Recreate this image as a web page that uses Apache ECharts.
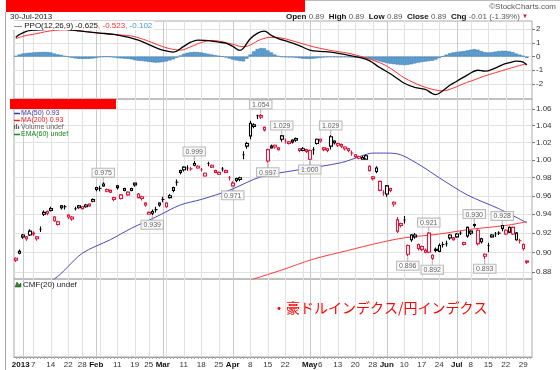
<!DOCTYPE html>
<html><head><meta charset="utf-8">
<script src="https://cdn.jsdelivr.net/npm/echarts@6/dist/echarts.min.js"></script>
<style>html,body{margin:0;padding:0;background:#fff}#c{width:560px;height:370px}</style>
</head><body><div id="c"></div>
<script>
// trading days shown (last one is an empty slot at the right edge)
const tradingDays = [
 ['2012-12', [28,31]],
 ['2013-01', [2,3,4,7,8,9,10,11,14,15,16,17,18,22,23,24,25,28,29,30,31]],
 ['2013-02', [1,4,5,6,7,8,11,12,13,14,15,19,20,21,22,25,26,27,28]],
 ['2013-03', [1,4,5,6,7,8,11,12,13,14,15,18,19,20,21,22,25,26,27,28]],
 ['2013-04', [1,2,3,4,5,8,9,10,11,12,15,16,17,18,19,22,23,24,25,26,29,30]],
 ['2013-05', [1,2,3,6,7,8,9,10,13,14,15,16,17,20,21,22,23,24,28,29,30,31]],
 ['2013-06', [3,4,5,6,7,10,11,12,13,14,17,18,19,20,21,24,25,26,27,28]],
 ['2013-07', [1,2,3,5,8,9,10,11,12,15,16,17,18,19,22,23,24,25,26,29,30,31]]
];
const categories = [];
tradingDays.forEach(([m, ds]) => ds.forEach(d => categories.push(m + '-' + String(d).padStart(2, '0'))));

const opens = [
 0.894,0.899,0.918,0.916,0.918,0.920,0.916,0.924,0.940,0.943,
 0.944,0.933,0.929,0.949,0.948,0.939,0.937,0.946,0.949,0.948,
 0.948,0.951,0.954,0.969,0.968,0.971,0.967,0.966,0.958,0.971,
 0.957,0.968,0.961,0.968,0.974,0.958,0.959,0.952,0.942,0.941,
 0.945,0.952,0.956,0.948,0.958,0.969,0.975,0.988,0.992,0.991,
 0.990,0.994,0.993,0.989,0.982,0.996,0.994,0.988,0.986,0.990,
 0.988,0.980,0.971,0.979,0.980,1.006,1.019,1.043,1.039,1.052,
 1.052,1.038,1.012,1.014,1.017,1.012,1.028,1.022,1.021,1.023,
 1.025,1.013,1.011,1.012,1.011,1.012,1.019,1.024,1.014,1.013,
 1.027,1.022,1.019,1.018,1.015,1.013,1.008,1.006,1.004,1.001,
 1.001,0.988,0.981,0.991,0.966,0.963,0.962,0.968,0.953,0.922,
 0.930,0.934,0.898,0.918,0.918,0.908,0.906,0.900,0.920,0.897,
 0.902,0.901,0.908,0.909,0.918,0.915,0.916,0.920,0.910,0.926,
 0.922,0.928,0.923,0.914,0.896,0.907,0.916,0.919,0.920,0.928,
 0.919,0.921,0.926,0.913,0.912,0.908,0.891
];
const closes = [
 0.892,0.901,0.916,0.914,0.922,0.919,0.914,0.924,0.942,0.941,
 0.946,0.937,0.932,0.947,0.948,0.937,0.935,0.946,0.947,0.946,
 0.950,0.949,0.956,0.967,0.968,0.973,0.965,0.964,0.956,0.969,
 0.961,0.966,0.964,0.966,0.972,0.962,0.957,0.950,0.940,0.943,
 0.945,0.950,0.956,0.952,0.960,0.966,0.975,0.986,0.989,0.991,
 0.990,0.996,0.991,0.989,0.985,0.996,0.992,0.986,0.984,0.990,
 0.986,0.980,0.974,0.977,0.978,1.006,1.016,1.028,1.041,1.052,
 1.050,1.035,0.999,1.016,1.015,1.014,1.024,1.022,1.019,1.021,
 1.023,1.011,1.013,1.010,1.001,1.012,1.024,1.022,1.012,1.011,
 1.016,1.020,1.017,1.016,1.013,1.011,1.008,1.004,1.002,1.003,
 1.005,0.993,0.979,0.987,0.976,0.963,0.971,0.966,0.951,0.934,
 0.928,0.934,0.907,0.913,0.916,0.904,0.903,0.902,0.900,0.894,
 0.903,0.907,0.908,0.909,0.915,0.913,0.919,0.920,0.908,0.917,
 0.920,0.929,0.909,0.911,0.898,0.907,0.918,0.919,0.920,0.925,
 0.923,0.926,0.919,0.920,0.912,0.904,0.890
];
const lows = [
 0.890,0.898,0.914,0.912,0.917,0.917,0.912,0.921,0.938,0.939,
 0.943,0.932,0.928,0.945,0.945,0.935,0.933,0.944,0.946,0.945,
 0.947,0.948,0.953,0.965,0.965,0.970,0.964,0.963,0.954,0.967,
 0.956,0.965,0.960,0.965,0.970,0.957,0.955,0.948,0.940,0.939,
 0.942,0.948,0.953,0.947,0.957,0.964,0.971,0.984,0.987,0.988,
 0.988,0.993,0.990,0.987,0.981,0.993,0.991,0.985,0.983,0.987,
 0.985,0.977,0.971,0.975,0.976,1.001,1.013,1.024,1.037,1.048,
 1.048,1.033,0.997,1.013,1.013,1.011,1.021,1.019,1.018,1.019,
 1.021,1.009,1.010,1.008,1.000,1.006,1.018,1.020,1.010,1.009,
 1.012,1.018,1.015,1.014,1.011,1.009,1.005,1.002,1.001,1.001,
 1.002,0.987,0.977,0.985,0.965,0.960,0.959,0.964,0.948,0.920,
 0.926,0.930,0.896,0.911,0.914,0.902,0.901,0.899,0.899,0.892,
 0.900,0.900,0.905,0.906,0.913,0.912,0.915,0.918,0.907,0.915,
 0.918,0.926,0.907,0.909,0.893,0.900,0.915,0.916,0.918,0.922,
 0.918,0.920,0.918,0.912,0.909,0.902,0.888
];
const highs = [
 0.895,0.903,0.919,0.917,0.924,0.922,0.917,0.927,0.944,0.944,
 0.948,0.938,0.933,0.950,0.950,0.940,0.938,0.948,0.950,0.949,
 0.951,0.952,0.957,0.970,0.971,0.975,0.968,0.967,0.959,0.972,
 0.962,0.969,0.965,0.969,0.974,0.963,0.960,0.953,0.943,0.945,
 0.948,0.953,0.959,0.953,0.962,0.970,0.978,0.989,0.993,0.994,
 0.992,0.999,0.994,0.991,0.986,0.998,0.995,0.989,0.987,0.992,
 0.989,0.982,0.976,0.980,0.981,1.010,1.021,1.046,1.043,1.053,
 1.054,1.039,1.013,1.018,1.018,1.015,1.029,1.025,1.022,1.024,
 1.026,1.014,1.015,1.013,1.012,1.015,1.025,1.025,1.015,1.014,
 1.029,1.023,1.020,1.019,1.016,1.014,1.011,1.007,1.005,1.005,
 1.006,0.994,0.982,0.993,0.977,0.966,0.972,0.969,0.954,0.937,
 0.931,0.938,0.908,0.919,0.920,0.909,0.907,0.904,0.921,0.898,
 0.905,0.909,0.911,0.912,0.919,0.916,0.920,0.922,0.911,0.927,
 0.923,0.930,0.924,0.915,0.899,0.910,0.919,0.921,0.922,0.928,
 0.924,0.927,0.927,0.921,0.914,0.909,0.892
];

const ma50 = [
 ['2012-12-28',0.856],['2013-01-15',0.873],['2013-01-28',0.899],['2013-02-07',0.913],
 ['2013-02-15',0.925],['2013-02-27',0.937],['2013-03-08',0.950],['2013-03-18',0.956],
 ['2013-03-28',0.966],['2013-04-11',0.981],['2013-04-26',0.989],['2013-05-14',0.997],
 ['2013-05-22',1.005],['2013-05-28',1.008],['2013-06-03',1.008],['2013-06-07',1.006],
 ['2013-06-17',0.993],['2013-06-24',0.980],['2013-07-05',0.961],['2013-07-18',0.946],
 ['2013-07-30',0.931]
];
const ma200 = [
 ['2013-04-01',0.866],['2013-04-09',0.873],['2013-04-19',0.882],['2013-05-02',0.893],
 ['2013-05-16',0.902],['2013-05-30',0.910],['2013-06-10',0.915],['2013-06-24',0.919],
 ['2013-07-08',0.924],['2013-07-22',0.928],['2013-07-30',0.932]
];

const ppoLine = [
 ['2012-12-28',1.40],['2012-12-31',1.60],['2013-01-03',1.85],['2013-01-07',1.93],['2013-01-10',1.97],
 ['2013-01-16',2.05],['2013-01-23',1.93],['2013-01-29',1.82],['2013-02-04',1.72],['2013-02-08',1.62],
 ['2013-02-14',1.42],['2013-02-20',1.20],['2013-02-25',0.88],['2013-02-27',0.65],['2013-03-01',0.47],
 ['2013-03-06',0.33],['2013-03-11',0.75],['2013-03-13',1.05],['2013-03-15',1.20],['2013-03-19',1.18],
 ['2013-03-21',1.13],['2013-03-25',1.05],['2013-03-27',0.98],['2013-04-01',0.75],['2013-04-03',0.45],
 ['2013-04-04',0.60],['2013-04-08',1.30],['2013-04-10',1.70],['2013-04-12',1.86],['2013-04-16',1.55],
 ['2013-04-18',1.32],['2013-04-23',1.08],['2013-04-26',0.80],['2013-05-01',0.48],['2013-05-06',0.38],
 ['2013-05-09',0.33],['2013-05-14',0.20],['2013-05-17',0.05],['2013-05-21',-0.05],['2013-05-24',-0.30],
 ['2013-05-30',-0.80],['2013-06-04',-1.25],['2013-06-06',-1.60],['2013-06-10',-1.95],['2013-06-13',-2.25],
 ['2013-06-18',-2.40],['2013-06-20',-2.70],['2013-06-21',-2.78],['2013-06-25',-2.50],['2013-06-27',-2.10],
 ['2013-07-01',-1.80],['2013-07-05',-1.35],['2013-07-10',-1.00],['2013-07-12',-1.07],['2013-07-17',-0.84],
 ['2013-07-19',-0.60],['2013-07-23',-0.45],['2013-07-25',-0.33],['2013-07-29',-0.40],['2013-07-30',-0.625]
];
const ppoSignal = [
 ['2012-12-28',1.30],['2013-01-02',1.48],['2013-01-08',1.68],['2013-01-14',1.88],['2013-01-18',1.95],
 ['2013-01-25',1.88],['2013-01-31',1.76],['2013-02-08',1.62],['2013-02-15',1.50],['2013-02-21',1.30],
 ['2013-02-25',1.12],['2013-02-28',0.82],['2013-03-05',0.58],['2013-03-08',0.47],['2013-03-13',0.72],
 ['2013-03-18',1.02],['2013-03-21',1.18],['2013-03-26',1.08],['2013-04-01',0.90],['2013-04-04',0.72],
 ['2013-04-08',0.85],['2013-04-11',1.25],['2013-04-16',1.40],['2013-04-19',1.35],['2013-04-25',1.08],
 ['2013-05-02',0.72],['2013-05-09',0.45],['2013-05-16',0.24],['2013-05-22',-0.02],['2013-05-30',-0.45],
 ['2013-06-04',-0.85],['2013-06-10',-1.55],['2013-06-17',-2.15],['2013-06-21',-2.45],['2013-06-25',-2.50],
 ['2013-06-28',-2.30],['2013-07-03',-1.98],['2013-07-09',-1.70],['2013-07-12',-1.42],['2013-07-17',-1.18],
 ['2013-07-22',-0.95],['2013-07-25',-0.72],['2013-07-30',-0.523]
];
const ppoHist = [
 0.05,0.15,0.22,0.26,0.28,0.30,0.32,0.33,0.34,0.33,
 0.30,0.22,0.16,0.12,0.05,-0.02,-0.08,-0.13,-0.16,-0.17,
 -0.17,-0.16,-0.14,-0.10,-0.05,-0.02,0.00,-0.02,-0.06,-0.10,
 -0.13,-0.15,-0.16,-0.20,-0.26,-0.30,-0.32,-0.35,-0.38,-0.42,
 -0.44,-0.43,-0.40,-0.35,-0.28,-0.20,-0.08,0.08,0.20,0.28,
 0.32,0.34,0.33,0.30,0.25,0.20,0.15,0.10,0.06,0.00,
 -0.06,-0.14,-0.22,-0.28,-0.33,-0.35,-0.15,0.15,0.38,0.55,
 0.62,0.60,0.45,0.30,0.15,0.05,-0.02,-0.05,-0.06,-0.06,
 -0.08,-0.12,-0.15,-0.16,-0.17,-0.15,-0.12,-0.08,-0.06,-0.04,
 -0.03,-0.04,-0.05,-0.05,-0.04,-0.05,-0.06,-0.07,-0.08,-0.10,
 -0.14,-0.18,-0.22,-0.28,-0.35,-0.42,-0.48,-0.52,-0.55,-0.58,
 -0.60,-0.62,-0.60,-0.56,-0.50,-0.44,-0.40,-0.36,-0.33,-0.30,
 -0.22,-0.10,0.02,0.14,0.24,0.30,0.34,0.37,0.40,0.45,
 0.50,0.55,0.50,0.40,0.32,0.30,0.32,0.36,0.40,0.42,
 0.42,0.38,0.32,0.22,0.14,0.06,-0.102
];

const highMarks = [['2013-02-05',0.975],['2013-03-14',0.999],['2013-04-11',1.054],['2013-04-19',1.029],
 ['2013-05-09',1.029],['2013-06-19',0.921],['2013-07-09',0.930],['2013-07-19',0.928]];
const lowMarks = [['2013-02-26',0.939],['2013-04-01',0.971],['2013-04-15',0.997],['2013-05-01',1.000],
 ['2013-06-11',0.896],['2013-06-20',0.892],['2013-07-12',0.893]];

const tickDates = ['2013-01-02','2013-01-07','2013-01-14','2013-01-22','2013-01-28','2013-02-01','2013-02-11',
 '2013-02-19','2013-02-25','2013-03-01','2013-03-11','2013-03-18','2013-03-25','2013-04-01','2013-04-08',
 '2013-04-15','2013-04-22','2013-05-01','2013-05-06','2013-05-13','2013-05-20','2013-05-28','2013-06-03',
 '2013-06-10','2013-06-17','2013-06-24','2013-07-01','2013-07-08','2013-07-15','2013-07-22','2013-07-29'];
const tickLabels = ['2013','7','14','22','28','Feb','11','19','25','Mar','11','18','25','Apr','8','15','22',
 'May','6','13','20','28','Jun','10','17','24','Jul','8','15','22','29'];
const extraWeekLines = ['2013-02-04','2013-03-04','2013-04-29'];
const monthLines = ['2013-01-02','2013-02-01','2013-03-01','2013-04-01','2013-05-01','2013-06-03','2013-07-01'];
const priceTicks = [0.88,0.90,0.92,0.94,0.96,0.98,1.00,1.02,1.04,1.06];
const ppoTicks = [-2,-1,0,1,2];

const RED = '#e0163c';
const FONT = '"Liberation Sans", Arial, sans-serif';
const weekSet = new Set(tickDates.concat(extraWeekLines));
const monthSet = new Set(monthLines);

const candleData = closes.map((c, i) => {
  const prev = i > 0 ? closes[i - 1] : Infinity;
  const col = c >= prev ? '#000' : RED;
  return { value: [opens[i], c, lows[i], highs[i]],
    itemStyle: { color: '#fff', color0: col, borderColor: col, borderColor0: col, borderColorDoji: col } };
});

const grids = [
  { left: 14, right: 28, top: 21, height: 78 },
  { left: 14, right: 28, top: 99, height: 180 },
  { left: 14, right: 28, top: 279, height: 78 }
].map(g => Object.assign(g, { show: true, borderColor: '#aaa', borderWidth: 1, backgroundColor: 'transparent' }));

const labelRich = {
  n: { fontSize: 8, color: '#333', fontFamily: FONT },
  b: { fontSize: 8, fontWeight: 'bold', color: '#111', fontFamily: FONT },
  y: { fontSize: 8, fontWeight: 'bold', color: '#111', fontFamily: FONT, padding: [0, 4, 0, 0] }
};
const xAxes = [];
for (let g = 0; g < 3; g++) {
  const bottom = g === 2;
  xAxes.push({
    type: 'category', gridIndex: g, position: 'bottom', data: categories, boundaryGap: true,
    axisLine: { show: bottom, lineStyle: { color: '#999' } },
    axisTick: { show: bottom, interval: 0, length: 2, alignWithLabel: true, lineStyle: { color: '#aaa' } },
    axisLabel: {
      show: bottom, interval: (i, v) => tickDates.includes(v) && v !== tickDates[0], margin: 4, hideOverlap: false,
      formatter: v => { const t = tickLabels[tickDates.indexOf(v)]; return (/^\d{1,2}$/.test(t) ? '{n|' : '{b|') + t + '}'; },
      rich: labelRich
    },
    splitLine: { show: true, interval: (i, v) => weekSet.has(v), alignWithLabel: true, lineStyle: { color: '#e2e2e2', width: 1 } }
  });
  xAxes.push({
    type: 'category', gridIndex: g, position: 'bottom', offset: 0, data: categories, boundaryGap: true,
    axisLine: { show: false }, axisTick: { show: false },
    axisLabel: {
      show: bottom, interval: (i, v) => v === tickDates[0], margin: 4, hideOverlap: false,
      formatter: v => '{y|' + tickLabels[0] + '}', rich: labelRich
    },
    splitLine: { show: true, interval: (i, v) => monthSet.has(v), alignWithLabel: true, lineStyle: { color: '#c9c9c9', width: 1 } }
  });
}

const yAxes = [
  { type: 'value', gridIndex: 0, position: 'right', min: -3.1, max: 2.6,
    axisLine: { show: false },
    axisTick: { show: true, customValues: ppoTicks, length: 3, lineStyle: { color: '#777' } },
    axisLabel: { customValues: ppoTicks, fontSize: 8, color: '#333', fontFamily: FONT, margin: 4 },
    splitLine: { show: true, lineStyle: { color: '#e2e2e2' } } },
  { type: 'log', logBase: 10, gridIndex: 1, position: 'right', min: 0.873, max: 1.0722,
    axisLine: { show: false },
    axisTick: { show: true, customValues: priceTicks, length: 3, lineStyle: { color: '#777' } },
    axisLabel: { customValues: priceTicks, formatter: v => v.toFixed(2), fontSize: 8, color: '#333', fontFamily: FONT, margin: 4 },
    splitLine: { show: true, lineStyle: { color: '#e2e2e2' } } },
  { type: 'value', gridIndex: 2, position: 'right', min: 0, max: 1,
    axisLine: { show: false }, axisTick: { show: false }, axisLabel: { show: false }, splitLine: { show: false } }
];

const markLabel = {
  show: true, formatter: p => p.value[1].toFixed(3), fontSize: 7, color: '#333', fontFamily: FONT,
  backgroundColor: '#fff', borderColor: '#aaa', borderWidth: 1, padding: [1, 2, 0, 2], distance: 0
};

const series = [
  { type: 'bar', xAxisIndex: 0, yAxisIndex: 0, data: ppoHist, barCategoryGap: '0%',
    itemStyle: { color: '#5d9fd3', borderColor: '#2f70a8', borderWidth: 0.5 }, silent: true },
  { type: 'line', xAxisIndex: 0, yAxisIndex: 0, data: ppoSignal, smooth: 0.4, symbol: 'none',
    lineStyle: { color: '#ff3030', width: 1 } },
  { type: 'line', xAxisIndex: 0, yAxisIndex: 0, data: ppoLine, smooth: 0.4, symbol: 'none',
    lineStyle: { color: '#000', width: 1.3 } },
  { type: 'line', xAxisIndex: 2, yAxisIndex: 1, data: ma50, smooth: 0.3, symbol: 'none', z: 2,
    lineStyle: { color: '#4a4ab8', width: 1 } },
  { type: 'line', xAxisIndex: 2, yAxisIndex: 1, data: ma200, smooth: 0.3, symbol: 'none', z: 2,
    lineStyle: { color: '#ff3a3a', width: 1 } },
  { type: 'candlestick', xAxisIndex: 2, yAxisIndex: 1, data: candleData, barWidth: 3, z: 3,
    itemStyle: { borderWidth: 1.1 } },
  { type: 'scatter', xAxisIndex: 2, yAxisIndex: 1, data: highMarks, symbol: 'rect', symbolSize: [1, 5],
    symbolOffset: [0, -3], itemStyle: { color: '#999' }, z: 4, label: Object.assign({ position: 'top' }, markLabel) },
  { type: 'scatter', xAxisIndex: 2, yAxisIndex: 1, data: lowMarks, symbol: 'rect', symbolSize: [1, 5],
    symbolOffset: [0, 3], itemStyle: { color: '#999' }, z: 4, label: Object.assign({ position: 'bottom' }, markLabel) }
];

const txt = (x, y, text, extra) => ({ type: 'text', x, y, z: 100,
  style: Object.assign({ text, fontSize: 8, fontFamily: FONT, fill: '#222', verticalAlign: 'middle' }, extra || {}) });

const graphic = [
  { type: 'rect', z: 100, shape: { x: 6, y: 0, width: 299, height: 12 }, style: { fill: '#ff0000' } },
  { type: 'line', z: 100, shape: { x1: 305, y1: 0.5, x2: 560, y2: 0.5 }, style: { stroke: '#bbb', lineWidth: 1 } },
  { type: 'line', z: 100, shape: { x1: 5.5, y1: 12, x2: 5.5, y2: 370 }, style: { stroke: '#aaa', lineWidth: 1 } },
  txt(10, 16.5, '30-Jul-2013'),
  txt(556, 6.5, '\u00A9StockCharts.com', { align: 'right', fill: '#555' }),
  txt(528, 16.5, '{b|Open} {v|0.89}  {b|High} {v|0.89}  {b|Low} {v|0.89}  {b|Close} {v|0.89}  {b|Chg} {v|-0.01 (-1.39%)} {r|\u25BC}',
    { align: 'right', rich: {
      b: { fontSize: 8, fontWeight: 'bold', fill: '#111', fontFamily: FONT },
      v: { fontSize: 8, fill: '#555', fontFamily: FONT },
      r: { fontSize: 6, fill: '#cc1133', fontFamily: FONT } } }),
  // PPO legend
  txt(13, 25.5, '{k|\u2014} {k|PPO(12,26,9) -0.625}{r|, -0.523}{c|, -0.102}',
    { backgroundColor: '#fff', padding: [1, 2, 0, 1], rich: {
      k: { fontSize: 8, fill: '#111', fontFamily: FONT },
      r: { fontSize: 8, fill: '#ff3030', fontFamily: FONT },
      c: { fontSize: 8, fill: '#3d9be0', fontFamily: FONT } } }),
  { type: 'rect', z: 100, shape: { x: 10, y: 99, width: 106, height: 10 }, style: { fill: '#ff0000' } },
  // main legend
  { type: 'line', z: 100, shape: { x1: 14, y1: 113.5, x2: 20, y2: 113.5 }, style: { stroke: '#3a3aa8', lineWidth: 1.5 } },
  txt(21, 113.5, 'MA(50) 0.93', { fontSize: 7, fill: '#3a3aa8', fontFamily: '"Liberation Sans Narrow", ' + FONT }),
  { type: 'line', z: 100, shape: { x1: 14, y1: 120.5, x2: 20, y2: 120.5 }, style: { stroke: '#ee2020', lineWidth: 1.5 } },
  txt(21, 120.5, 'MA(200) 0.93', { fontSize: 7, fill: '#ee2020', fontFamily: '"Liberation Sans Narrow", ' + FONT }),
  { type: 'rect', z: 100, shape: { x: 14, y: 125, width: 1.2, height: 4 }, style: { fill: '#666' } },
  { type: 'rect', z: 100, shape: { x: 16, y: 124, width: 1.2, height: 5 }, style: { fill: '#666' } },
  { type: 'rect', z: 100, shape: { x: 18, y: 126, width: 1.2, height: 3 }, style: { fill: '#666' } },
  txt(21, 127.5, 'Volume undef', { fontSize: 7, fill: '#666', fontFamily: '"Liberation Sans Narrow", ' + FONT }),
  { type: 'line', z: 100, shape: { x1: 14, y1: 134.5, x2: 20, y2: 134.5 }, style: { stroke: '#118811', lineWidth: 1.5 } },
  txt(21, 134.5, 'EMA(60) undef', { fontSize: 7, fill: '#118811', fontFamily: '"Liberation Sans Narrow", ' + FONT }),
  // CMF legend
  { type: 'polygon', z: 100, shape: { points: [[15, 287], [17, 282], [19, 285], [21, 283], [21, 287]] }, style: { fill: '#2a8a2a', stroke: '#114411', lineWidth: 0.5 } },
  txt(23, 284.5, 'CMF(20) undef', { fontSize: 8 }),
  // Japanese title
  txt(272, 308, '\u30FB\u8C6A\u30C9\u30EB\u30A4\u30F3\u30C7\u30AF\u30B9/\u5186\u30A4\u30F3\u30C7\u30AF\u30B9',
    { fontSize: 14, fill: '#ff0000', fontFamily: '"Noto Sans CJK JP", sans-serif' })
];

const chart = echarts.init(document.getElementById('c'), null, { renderer: 'canvas' });
chart.setOption({
  animation: false, backgroundColor: '#fff',
  grid: grids, xAxis: xAxes, yAxis: yAxes, series, graphic
});
</script></body></html>
